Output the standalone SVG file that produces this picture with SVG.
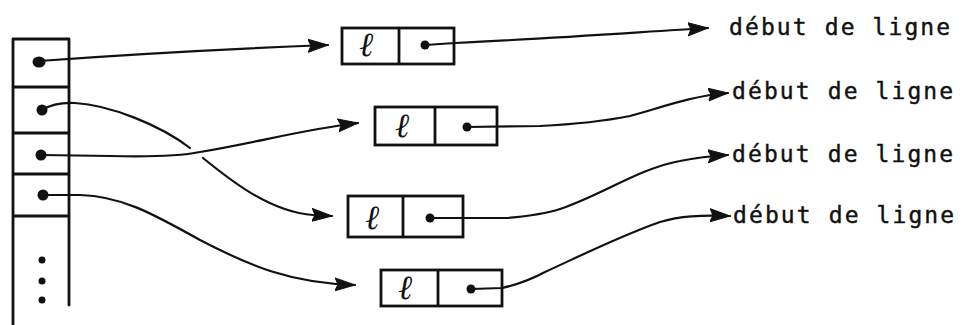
<svg xmlns="http://www.w3.org/2000/svg" width="975" height="325" viewBox="0 0 975 325">
<style>
.frame{fill:none;stroke:#111;stroke-width:2.8;stroke-linecap:round}
.box{fill:#fff;stroke:#111;stroke-width:2.8}
.wire{fill:none;stroke:#111;stroke-width:2.2;stroke-linecap:round}
.dot{fill:#111}
.lbl{font-family:"DejaVu Sans Mono","Liberation Mono",monospace;font-size:23px;fill:#111;stroke:#111;stroke-width:0.4;letter-spacing:2.1px}
.ell{font-family:"DejaVu Serif","Liberation Serif",serif;font-style:italic;font-size:34px;fill:#111}
</style>
<defs>
<marker id="ah" markerUnits="userSpaceOnUse" markerWidth="24" markerHeight="16" refX="20" refY="7" orient="auto">
<path d="M0,0.5 L20,7 L0,13.5 L3,7 Z" fill="#111" stroke="#111" stroke-width="1" stroke-linejoin="round"/>
</marker>
</defs>
<rect width="975" height="325" fill="#fff"/>
<g id="column">
<path class="frame" d="M13,39 L13,325 M69,39 L69,305 M13,39 L69,39 M13,87 L69,87 M13,133 L69,133 M13,174 L69,174 M13,216 L69,216"/>
<ellipse class="dot" cx="39" cy="62" rx="6.5" ry="5.5"/>
<circle class="dot" cx="42" cy="110" r="5.5"/>
<circle class="dot" cx="41" cy="155" r="5.5"/>
<circle class="dot" cx="43" cy="195" r="5.5"/>
<circle class="dot" cx="42" cy="260" r="3.5"/>
<circle class="dot" cx="42" cy="281" r="3.5"/>
<circle class="dot" cx="42" cy="300" r="3.5"/>
</g>
<g id="cell1">
<rect class="box" x="342" y="28" width="112" height="36"/>
<line class="box" x1="399" y1="28" x2="399" y2="64"/>
<text class="ell" x="359" y="56">ℓ</text>
<circle class="dot" cx="425" cy="45" r="4.5"/>
</g>
<g id="cell2">
<rect class="box" x="375" y="107" width="122" height="38"/>
<line class="box" x1="435" y1="107" x2="435" y2="145"/>
<text class="ell" x="395" y="137">ℓ</text>
<circle class="dot" cx="467" cy="127" r="4.5"/>
</g>
<g id="cell3">
<rect class="box" x="348" y="196" width="115" height="41"/>
<line class="box" x1="403" y1="196" x2="403" y2="237"/>
<text class="ell" x="365" y="229">ℓ</text>
<circle class="dot" cx="430" cy="218" r="4.5"/>
</g>
<g id="cell4">
<rect class="box" x="381" y="270" width="121" height="36"/>
<line class="box" x1="438" y1="270" x2="438" y2="306"/>
<text class="ell" x="398" y="299">ℓ</text>
<circle class="dot" cx="471" cy="289" r="4.5"/>
</g>
<g id="connectors">
<path class="wire" marker-end="url(#ah)" d="M39,61 C120,55 250,48 328,45"/>
<path class="wire" d="M42,110 Q55,102 75,103 C110,105 160,125 190,148"/>
<path class="wire" marker-end="url(#ah)" d="M203,158 C230,180 270,212 313,215 L332,216"/>
<path class="wire" marker-end="url(#ah)" d="M41,155 L110,156 C150,157 180,156 200,152 C260,142 300,130 358,123"/>
<path class="wire" marker-end="url(#ah)" d="M43,195 L80,195 C120,196 150,212 200,240 C250,266 290,283 355,285"/>
<path class="wire" marker-end="url(#ah)" d="M425,45 L455,43 C560,38 640,32 708,28"/>
<path class="wire" marker-end="url(#ah)" d="M467,127 L540,126 C580,124 610,120 630,116 C660,108 690,96 728,93"/>
<path class="wire" marker-end="url(#ah)" d="M430,218 L507,218 C530,216 545,214 560,209 C600,196 640,168 680,161 C700,157 712,156 728,155"/>
<path class="wire" marker-end="url(#ah)" d="M471,289 L502,288 C520,284 530,280 545,272 C580,256 620,236 660,222 C680,216 700,215 730,216"/>
</g>
<g id="labels">
<text class="lbl" x="729" y="35">début de ligne</text>
<text class="lbl" x="732" y="99">début de ligne</text>
<text class="lbl" x="732" y="162">début de ligne</text>
<text class="lbl" x="733" y="223">début de ligne</text>
</g>
</svg>
